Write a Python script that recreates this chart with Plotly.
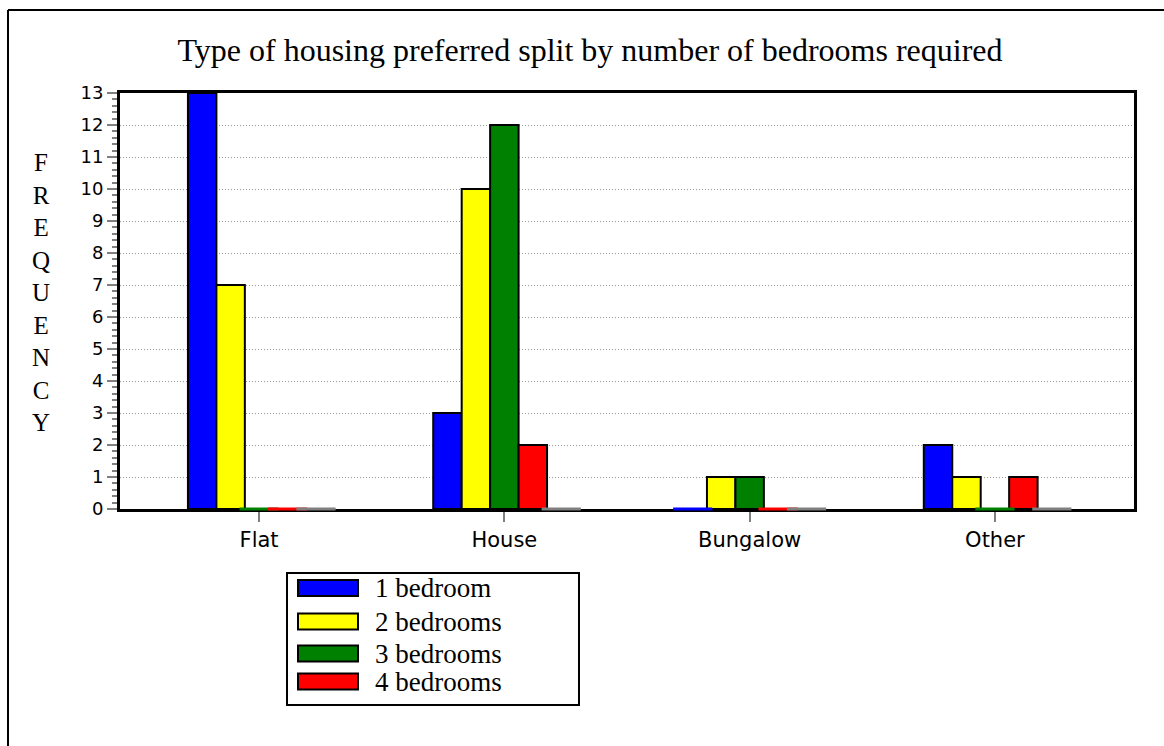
import plotly.graph_objects as go

categories = ["Flat", "House", "Bungalow", "Other"]
series_names = ["1 bedroom", "2 bedrooms", "3 bedrooms", "4 bedrooms", "5 bedrooms"]
series_colors = ["#0000FF", "#FFFF00", "#008000", "#FF0000", "#808080"]
values_1bed = [13, 3, 0, 2]
values_2bed = [7, 10, 1, 1]
values_3bed = [0, 12, 1, 0]
values_4bed = [0, 2, 0, 1]
values_5bed = [0, 0, 0, 0]
series_values = [values_1bed, values_2bed, values_3bed, values_4bed, values_5bed]
legend_count = 4
y_ticks = list(range(0, 14))

W, H = 1164, 746
ML, MR, MT, MB = 120, 30, 93, 237
PW = W - ML - MR
PH = H - MT - MB


def px(x):
    return (x - ML) / PW


def py(y):
    return (H - MB - y) / PH


fig = go.Figure()
for name, color, vals in zip(series_names, series_colors, series_values):
    fig.add_trace(go.Bar(
        x=categories, y=vals, name=name,
        marker=dict(color=color, line=dict(color="black", width=2)),
        showlegend=False,
    ))
for name, color, vals in zip(series_names, series_colors, series_values):
    fig.add_trace(go.Scatter(
        x=categories, y=[0 if v == 0 else None for v in vals], mode="markers",
        marker=dict(symbol="line-ew", size=28, line=dict(color=color, width=3)),
        showlegend=False, cliponaxis=False, hoverinfo="skip",
    ))

shapes = []
annotations = []
# outer frame (left and top edges; the frame extends past the window)
shapes.append(dict(type="line", xref="paper", yref="paper", x0=px(8), x1=px(8), y0=py(10), y1=py(760),
                   line=dict(color="black", width=2)))
shapes.append(dict(type="line", xref="paper", yref="paper", x0=px(8), x1=px(1180), y0=py(10), y1=py(10),
                   line=dict(color="black", width=2)))
# legend box
shapes.append(dict(type="rect", xref="paper", yref="paper", x0=px(287), x1=px(579), y0=py(573), y1=py(705),
                   line=dict(color="black", width=2), fillcolor="white"))
row_y = [588, 621.5, 653.5, 681.5]
for i in range(legend_count):
    yc = row_y[i]
    shapes.append(dict(type="rect", xref="paper", yref="paper", x0=px(298), x1=px(358),
                       y0=py(yc - 8), y1=py(yc + 8),
                       line=dict(color="black", width=2), fillcolor=series_colors[i]))
    annotations.append(dict(text=series_names[i], xref="paper", yref="paper", x=px(373), y=py(yc),
                            xanchor="left", yanchor="middle", showarrow=False,
                            font=dict(family="Liberation Serif", size=27, color="black")))
# vertical y-axis title
annotations.append(dict(text="<br>".join(list("FREQUENCY")), xref="paper", yref="paper",
                        x=px(41), y=py(292), xanchor="center", yanchor="middle", showarrow=False,
                        font=dict(family="Liberation Serif", size=25, color="black")))

fig.update_layout(
    width=W, height=H,
    margin=dict(l=ML, r=MR, t=MT, b=MB),
    paper_bgcolor="white", plot_bgcolor="white",
    barmode="group", bargap=0.42, bargroupgap=0,
    scattermode="group", scattergap=0.42,
    title=dict(text="Type of housing preferred split by number of bedrooms required",
               xref="container", x=590 / W, xanchor="center",
               yref="container", y=1 - 50 / H, yanchor="middle",
               font=dict(family="Liberation Serif", size=32, color="black")),
    xaxis=dict(
        type="category", range=[-0.567, 3.567],
        showline=True, linecolor="black", linewidth=3, mirror=True,
        ticks="outside", ticklen=10, tickcolor="gray", tickwidth=2,
        tickfont=dict(family="DejaVu Sans", size=21, color="black"),
        showgrid=False, layer="below traces",
    ),
    yaxis=dict(
        range=[0, 13], tickvals=y_ticks, ticktext=[str(t) for t in y_ticks],
        showline=True, linecolor="black", linewidth=3, mirror=True,
        ticks="outside", ticklen=10, tickcolor="gray", tickwidth=2,
        tickfont=dict(family="DejaVu Sans", size=18, color="black"),
        showgrid=True, gridcolor="#999999", griddash="1px,2px", gridwidth=1,
        zeroline=False,
        minor=dict(dtick=0.2, ticks="outside", ticklen=5, tickcolor="gray", tickwidth=2, showgrid=False),
        layer="below traces",
    ),
    shapes=shapes, annotations=annotations,
    showlegend=False,
)

fig.write_html("out.html")
